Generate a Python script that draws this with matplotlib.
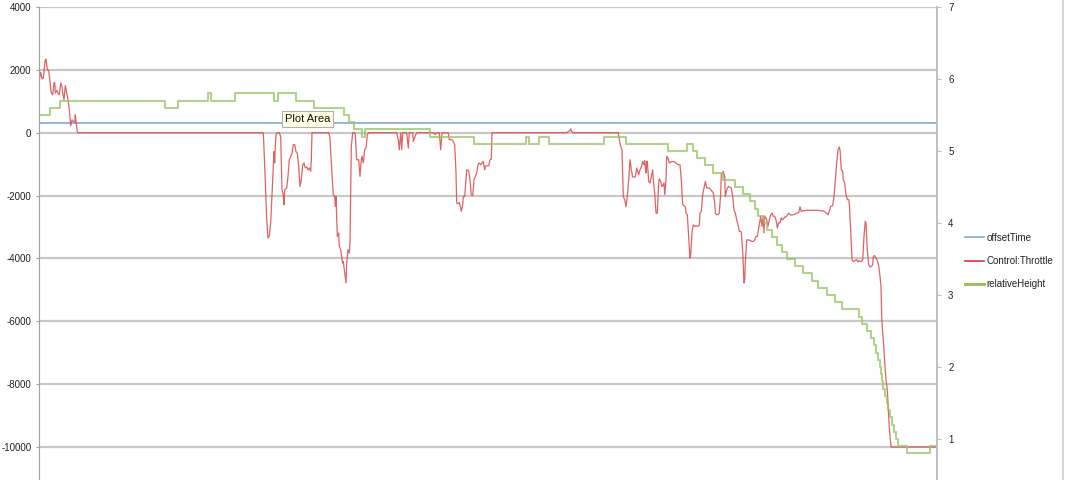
import matplotlib
matplotlib.use("Agg")
import matplotlib.pyplot as plt
from matplotlib.lines import Line2D

plt.rcParams['font.family'] = ['Liberation Sans', 'DejaVu Sans']

# sample index (no x labels on the original chart)
x_end = 898

offset_x = [0, x_end]
offset_time = [310, 310]

# Control:Throttle
throttle_x = [
    0.3, 1.7, 3, 4.3, 6.3, 7, 8.3, 9.7, 11, 12.3, 13.7, 15, 15.7, 16.3, 17.7, 19, 20.3, 21.7, 23, 23.7,
    25, 26.3, 27.7, 29, 30.3, 31.7, 33, 34.3, 35.7, 36.3, 37, 38.3, 39,
    224.3, 226, 227.7, 229, 230.3, 231.7, 233, 234.3, 235, 235.7, 236.3, 237, 238.3, 240.3, 241.7, 243,
    244.3, 245, 245.7, 247.7, 249, 250.3, 251.7, 253, 254.3, 255.7, 257, 258.3, 259.7, 261, 262.3, 263.7,
    265, 266.3, 267.7, 269, 270.3, 271.7, 272.3, 273,
    289.7, 291, 293, 294.3, 295.7, 296.3, 297, 298.3, 299.7, 300.3, 301.7, 303, 303.7, 304.3, 305.7, 307,
    307.7, 309, 310.3, 311, 312.3, 313.7, 315.7, 316.3, 317.7, 319.7, 321, 322.3, 323, 324.3, 325.7, 327,
    328.3, 329.7,
    357.7, 359.3, 360.3, 361.7, 362.7, 363.7, 367.7, 369.3, 370.3, 373.7, 374.3, 376, 377.7,
    394.3, 396, 397.7, 400.3, 401.7, 403, 409.3, 410.3, 412.7, 414.3, 415.7, 417, 417.7, 419, 420.3, 421.7,
    422.3, 423.7, 424.3, 425.7, 427, 427.7, 429.7, 431, 432.3, 433.7, 434.3, 435, 436.3, 437.7, 439, 440.3,
    441.7, 443, 444.3, 445.7, 446.3, 447.7, 449.7, 451, 452.3, 453,
    527.7, 529.3, 531, 531.7, 532.7, 534.3,
    579.3, 580.3, 581.7, 583, 584.3, 585.7, 587, 588.3, 589.7, 591, 592.3, 593.7, 596.3, 597.7, 599.7, 601,
    602.3, 603.7, 605, 605.7, 606.3, 607, 607.7, 608.3, 609, 609.7, 611, 612.3, 613.7, 614.3, 615.7, 617,
    618.3, 619.7, 620.3, 621.7, 623, 623.7, 625, 625.7, 627, 627.7, 629, 630.3, 631.7, 633, 634.3, 636.3,
    637.7, 639.7, 641, 642.3, 643.7, 645, 646.3, 647, 648.3, 649.7, 651, 651.7, 653, 654.3, 655.7, 657,
    659, 660.3, 661, 662.3, 663.7, 665, 666.3, 667.7, 670.3, 671.7, 674.3, 675.7, 676.3, 677.7, 679, 680.3,
    681.7, 682.3, 683.7, 684.3, 685.7, 686.3, 687, 688.3, 689.7, 692.3, 693.7, 695, 696.3, 697.7, 699, 700.3,
    701.7, 702.3, 703.7, 705, 705.7, 706.3, 707.7, 709.7, 711, 713, 714.3, 715.7, 717, 718.3, 719.7, 721,
    721.7, 723, 724.3, 725, 725.7, 727, 727.7, 729, 730.3, 731.7, 733, 734.3, 735.7, 737, 738.3, 739.7,
    741, 742.3, 743, 744.3, 745.7, 747, 749.7, 751, 753, 755.7, 757.7, 759.7, 761, 762.3, 764.3, 767.7,
    774.3, 777.7, 781, 784.3, 787.7, 789, 790.3, 791.7, 793.7, 795, 796.3, 797.7, 799, 800.3, 801, 802.3,
    803.7, 804.3, 805.7, 807, 808.3, 809.7, 810.3, 811.7, 813, 814.3, 815.7, 817.7, 819, 820.3, 821.7, 823,
    823.7, 825, 826.3, 827, 828.3, 829.7, 831, 832.3, 833.7, 834.3, 835.7, 837, 838.3, 839.7, 841, 842,
    842.7, 843.7, 845, 846, 847, 848.3, 849.3, 850.3, 851, 852, 898,
]
throttle = [
    1690, 1920, 1710, 1740, 2320, 2345, 2000, 1980, 1630, 1260, 1210, 1580, 1600, 1260, 1350, 1260, 1210, 1580, 1470, 1260,
    1050, 1500, 1260, 1050, 730, 220, 410, 360, 330, 570, 360, 40, 0,
    0, -1280, -2770, -3350, -3300, -2870, -1970, -1070, -600, -960, -440, -60, 0, 0, -120, -1810,
    -1970, -2290, -1810, -1760, -1390, -860, -750, -650, -380, -380, -600, -650, -1070, -1710, -1500, -1020,
    -960, -1120, -1090, -1180, -1120, -1230, -860, 0,
    0, -170, -1340, -1970, -2030, -2350, -2030, -3300, -3190, -3620, -3720, -4040, -4150, -4100, -4460, -4780,
    -4150, -3720, -3830, -3510, -440, 0, 0, -60, -860, -860, -1390, -860, -750, -960, -540, -490,
    -60, 0,
    0, -220, -540, 0, -540, 0, 0, -490, 0, 0, -280, -120, 0,
    0, -60, 0, 0, -540, 0, -10, -220, -220, -280, -380, -1280, -2240, -2260, -2220, -2400,
    -2500, -2290, -2030, -2030, -1500, -1180, -1200, -1500, -1970, -2000, -1810, -1500, -1390, -1280, -1020, -960,
    -1020, -960, -910, -1180, -1070, -1050, -1050, -860, -840, 0,
    0, 40, 70, 120, 40, 0,
    0, -220, -440, -540, -2030, -2130, -2350, -2030, -1500, -860, -1180, -1410, -1410, -1120, -1340, -1180,
    -1090, -910, -1020, -890, -1090, -1280, -910, -910, -1230, -1550, -1600, -1390, -1180, -1500, -1920, -2560,
    -2560, -1600, -1470, -1550, -1710, -1690, -1600, -1970, -1500, -750, -810, -960, -940, -920, -920, -940,
    -990, -1020, -1020, -1500, -2290, -2320, -2350, -2560, -2610, -3300, -3990, -3880, -3190, -2930, -2980, -2960,
    -2980, -2930, -2560, -2500, -1970, -1760, -1550, -1760, -1760, -1810, -1920, -2240, -2560, -2610, -2610, -2560,
    -1920, -1340, -1280, -1230, -1390, -2030, -1920, -1760, -1710, -1760, -2030, -2450, -2560, -2770, -2930, -3140,
    -3140, -3170, -3780, -4780, -4680, -4150, -3410, -3410, -3430, -3460, -3460, -3410, -3300, -3300, -3030, -2770,
    -2660, -2980, -2660, -3190, -2660, -2710, -2770, -2980, -2770, -2610, -2560, -2660, -2660, -2770, -3030, -2860,
    -2870, -2710, -2770, -2750, -2680, -2680, -2560, -2610, -2620, -2600, -2560, -2540, -2360, -2510, -2480, -2470,
    -2470, -2470, -2480, -2490, -2560, -2610, -2500, -2350, -2320, -2030, -1500, -960, -540, -455, -540, -1180,
    -1230, -1500, -1600, -1970, -2130, -2130, -2240, -3090, -4040, -4100, -4070, -4040, -4110, -4070, -4100, -4080,
    -4040, -3300, -2820, -2870, -3720, -4200, -4270, -4250, -4200, -3940, -3910, -3990, -4060, -4230, -4570, -4890,
    -5850, -6370, -6900, -7440, -7860, -8180, -8810, -9350, -9660, -10000, -10000,
]

# relativeHeight (right axis), step values
height_x = [0, 11, 21, 126, 139, 169, 172, 196, 235, 239, 257, 275, 305, 310, 315, 323, 326,
            391, 435, 487, 490, 500, 510, 565, 587, 629, 648, 654, 658, 666, 674, 684, 696, 704,
            711, 716, 719, 725, 728, 733, 738, 743, 748, 756, 764, 773, 779, 788, 796, 803, 820,
            823, 828, 832, 835, 837, 839, 841, 842, 843, 844, 846, 848, 849, 851, 853, 855, 857,
            859, 868, 891, x_end]
rel_height = [5.5, 5.6, 5.7, 5.6, 5.7, 5.8, 5.7, 5.8, 5.7, 5.8, 5.7, 5.6, 5.5, 5.4, 5.3, 5.2, 5.3,
              5.2, 5.1, 5.2, 5.1, 5.2, 5.1, 5.2, 5.1, 5.0, 5.1, 5.0, 4.9, 4.8, 4.7, 4.6, 4.5, 4.4,
              4.3, 4.2, 4.1, 4.0, 3.9, 3.8, 3.7, 3.6, 3.5, 3.4, 3.3, 3.2, 3.1, 3.0, 2.9, 2.8, 2.7,
              2.6, 2.5, 2.4, 2.3, 2.2, 2.1, 2.0, 1.9, 1.8, 1.7, 1.6, 1.5, 1.4, 1.3, 1.2, 1.1, 1.0,
              0.9, 0.8, 0.9, 0.9]

left_ticks = [-10000, -8000, -6000, -4000, -2000, 0, 2000, 4000]
right_ticks = [1, 2, 3, 4, 5, 6, 7]

fig = plt.figure(figsize=(10.65, 4.8), dpi=100)
ax = fig.add_axes([39 / 1065, 0.0, (937 - 39) / 1065, 1 - 7 / 480])
ax2 = ax.twinx()

grid_c = '#c8c8c8'
for v in left_ticks:
    ax.axhline(v, color=grid_c, lw=1.6, zorder=0)

ax.plot(offset_x, offset_time, color='#8eb0d8', lw=1.3, label='offsetTime')
ax.plot(throttle_x, throttle, color='#d9484a', lw=0.9, alpha=0.85, label='Control:Throttle')
ax2.plot(height_x, rel_height, color='#9bc265', lw=1.5, alpha=0.75, drawstyle='steps-post',
         label='relativeHeight')

ax.set_xlim(0, x_end)
ax.set_ylim(-11050, 4000)
ax2.set_ylim(0.43, 7)
ax.set_xticks([])
ax.set_yticks(left_ticks)
ax.set_yticklabels([str(v) for v in left_ticks])
ax2.set_yticks(right_ticks)

for a in (ax, ax2):
    for s in ('top', 'bottom'):
        a.spines[s].set_visible(False)
ax.spines['left'].set_color('#a0a0a0')
ax.spines['right'].set_visible(False)
ax2.spines['left'].set_visible(False)
ax2.spines['right'].set_color('#c0c0c0')
ax2.spines['right'].set_linewidth(1.4)

ax.tick_params(axis='y', length=2, color='#a0a0a0', labelsize=7, pad=3.5, labelcolor='#222222')
ax2.tick_params(axis='y', length=3, color='#c0c0c0', labelsize=7, pad=5, labelcolor='#222222')

handles = [Line2D([], [], color='#8eb0d8', lw=1.3),
           Line2D([], [], color='#d9484a', lw=1.3),
           Line2D([], [], color='#9bc265', lw=2.2)]
fig.legend(handles, ['offsetTime', 'Control:Throttle', 'relativeHeight'],
           loc='center left', bbox_to_anchor=(965 / 1065, 1 - 261 / 480), frameon=False,
           borderpad=0, borderaxespad=0, fontsize=7, handlelength=2.0, handletextpad=0.2,
           labelspacing=1.35, labelcolor='#222222')

# the tooltip that was captured in the screenshot
fig.text(285 / 1065, 1 - 119 / 480, 'Plot Area', fontsize=8, va='center', ha='left',
         color='#111111',
         bbox=dict(boxstyle='square,pad=0.25', fc='#ffffe1', ec='#b0b0b0', lw=0.8))

fig.add_artist(Line2D([1063 / 1065, 1063 / 1065], [0, 1], color='#c8d0dc', lw=1.2))

fig.savefig('out.png', dpi=100)
